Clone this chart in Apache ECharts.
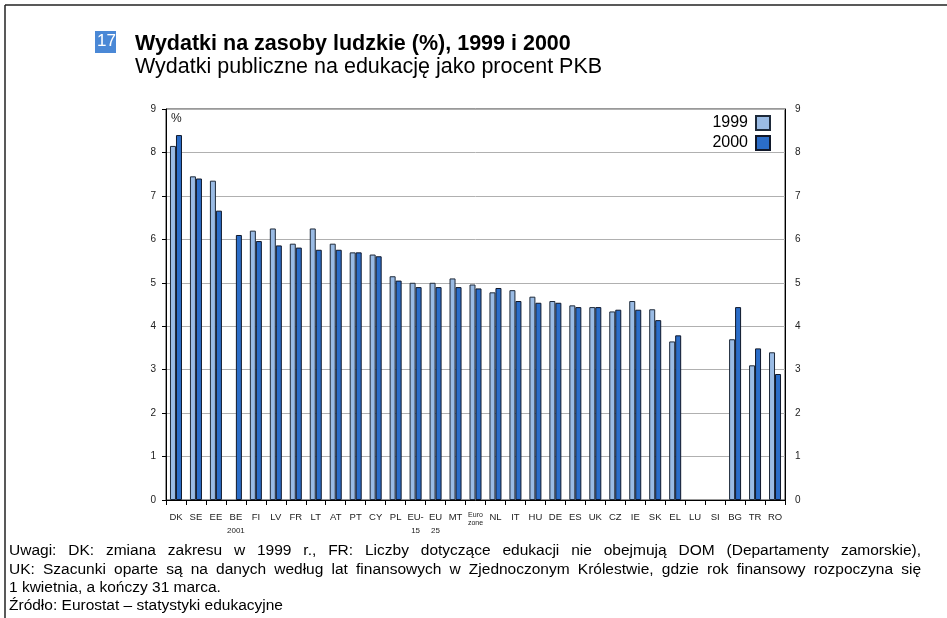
<!DOCTYPE html>
<html>
<head>
<meta charset="utf-8">
<script src="https://cdn.jsdelivr.net/npm/echarts@6/dist/echarts.min.js"></script>
<style>
  html, body { margin: 0; padding: 0; background: #fff; }
  #chart { width: 947px; height: 618px; }
</style>
</head>
<body>
<div id="chart"></div>
<script>
// kraje / grupy
const categories = ['DK', 'SE', 'EE', 'BE\n2001', 'FI', 'LV', 'FR', 'LT', 'AT', 'PT', 'CY', 'PL',
  'EU-\n15', 'EU\n25', 'MT', 'Euro\nzone', 'NL', 'IT', 'HU', 'DE', 'ES', 'UK', 'CZ', 'IE', 'SK', 'EL',
  'LU', 'SI', 'BG', 'TR', 'RO']

const values1999 = [8.15, 7.45, 7.35, null, 6.2, 6.25, 5.9, 6.25, 5.9, 5.7, 5.65, 5.15,
  5.0, 5.0, 5.1, 4.96, 4.78, 4.83, 4.68, 4.58, 4.48, 4.44, 4.34, 4.58, 4.39, 3.65,
  null, null, 3.7, 3.1, 3.4]

const values2000 = [8.4, 7.4, 6.66, 6.1, 5.96, 5.86, 5.81, 5.76, 5.76, 5.7, 5.61, 5.05,
  4.9, 4.9, 4.9, 4.87, 4.88, 4.58, 4.54, 4.54, 4.44, 4.44, 4.38, 4.38, 4.14, 3.79,
  null, null, 4.44, 3.49, 2.9]

const notes = [
  'Uwagi: DK: zmiana zakresu w 1999 r., FR: Liczby dotyczące edukacji nie obejmują DOM (Departamenty zamorskie),',
  'UK: Szacunki oparte są na danych według lat finansowych w Zjednoczonym Królestwie, gdzie rok finansowy rozpoczyna się',
  '1 kwietnia, a kończy 31 marca.',
  'Źródło: Eurostat – statystyki edukacyjne'
]

const font = '"Liberation Sans", Arial, sans-serif'
const noteFont = '15.5px ' + font

function xLabel(v) {
  if (v === 'Euro\nzone') return '{s|Euro}\n{s|zone}'
  if (v === 'EU-\n15') return 'EU-\n{t|15}'
  if (v === 'EU\n25') return 'EU\n{t|25}'
  if (v === 'BE\n2001') return 'BE\n{t|2001}'
  return v
}

// tekst wyjustowany - słowa rozłożone od x0 do x1
const ctx = document.createElement('canvas').getContext('2d')
ctx.font = noteFont
function justified(line, x0, x1, top) {
  const words = line.split(' ')
  const widths = words.map(w => ctx.measureText(w).width)
  const total = widths.reduce((a, b) => a + b, 0)
  const gap = (x1 - x0 - total) / (words.length - 1)
  let x = x0
  return words.map((w, i) => {
    const el = { type: 'text', left: x, top: top, style: { text: w, fill: '#000', font: noteFont } }
    x += widths[i] + gap
    return el
  })
}

const chart = echarts.init(document.getElementById('chart'))

const option = {
  animation: false,
  textStyle: { fontFamily: font },
  title: {
    text: 'Wydatki na zasoby ludzkie (%), 1999 i 2000',
    subtext: 'Wydatki publiczne na edukację jako procent PKB',
    left: 130,
    top: 28,
    itemGap: 1,
    textStyle: { fontSize: 21.5, fontWeight: 'bold', color: '#000', fontFamily: font },
    subtextStyle: { fontSize: 21.5, color: '#000', fontFamily: font }
  },
  legend: {
    orient: 'vertical',
    right: 176,
    top: 115,
    padding: 0,
    align: 'right',
    icon: 'rect',
    itemWidth: 14,
    itemHeight: 14,
    itemGap: 4,
    textStyle: { fontSize: 16, color: '#000', padding: [0, 3, 0, 0] },
    data: ['1999', '2000']
  },
  grid: {
    left: 166,
    right: 162,
    top: 109,
    bottom: 118,
    show: true,
    borderColor: '#333',
    borderWidth: 1
  },
  xAxis: {
    type: 'category',
    data: categories,
    axisLine: { lineStyle: { color: '#000' } },
    axisTick: { show: true, length: 5, lineStyle: { color: '#000' } },
    axisLabel: {
      interval: 0,
      margin: 11,
      fontSize: 9.5,
      color: '#222',
      lineHeight: 12,
      formatter: xLabel,
      rich: {
        s: { fontSize: 7, lineHeight: 8, color: '#222' },
        t: { fontSize: 8, lineHeight: 15, color: '#222' }
      }
    }
  },
  yAxis: [
    {
      type: 'value',
      min: 0,
      max: 9,
      interval: 1,
      axisLine: { show: true, lineStyle: { color: '#000' } },
      axisTick: { show: true, length: 4, lineStyle: { color: '#000' } },
      axisLabel: { fontSize: 10, color: '#222', margin: 10 },
      splitLine: { lineStyle: { color: '#b0b0b0', width: 1 } }
    },
    {
      type: 'value',
      position: 'right',
      min: 0,
      max: 9,
      interval: 1,
      axisLine: { show: true, lineStyle: { color: '#000' } },
      axisTick: { show: false },
      axisLabel: { fontSize: 10, color: '#222', margin: 10 },
      splitLine: { show: false }
    }
  ],
  series: [
    {
      name: '1999',
      type: 'bar',
      barWidth: 6,
      barGap: '0%',
      itemStyle: { color: '#9abbe4', borderColor: '#1e2a3a', borderWidth: 1 },
      data: values1999
    },
    {
      name: '2000',
      type: 'bar',
      barWidth: 6,
      barGap: '0%',
      itemStyle: { color: '#2b6dc8', borderColor: '#10182a', borderWidth: 1 },
      data: values2000
    }
  ],
  graphic: [
    { type: 'line', shape: { x1: 5, y1: 5, x2: 947, y2: 5 }, style: { stroke: '#222', lineWidth: 1.5 } },
    { type: 'line', shape: { x1: 5, y1: 5, x2: 5, y2: 618 }, style: { stroke: '#222', lineWidth: 1.5 } },
    { type: 'rect', shape: { x: 95, y: 31, width: 21, height: 22 }, style: { fill: '#4a88d6' } },
    { type: 'text', left: 97, top: 33, style: { text: '17', fill: '#fff', font: '17px ' + font } },
    { type: 'text', left: 171, top: 113, style: { text: '%', fill: '#222', font: '12px ' + font } },
    ...justified(notes[0], 9, 921, 543),
    ...justified(notes[1], 9, 921, 562),
    { type: 'text', left: 9, top: 580, style: { text: notes[2], fill: '#000', font: noteFont } },
    { type: 'text', left: 9, top: 598, style: { text: notes[3], fill: '#000', font: noteFont } }
  ]
}

chart.setOption(option)
</script>
</body>
</html>
